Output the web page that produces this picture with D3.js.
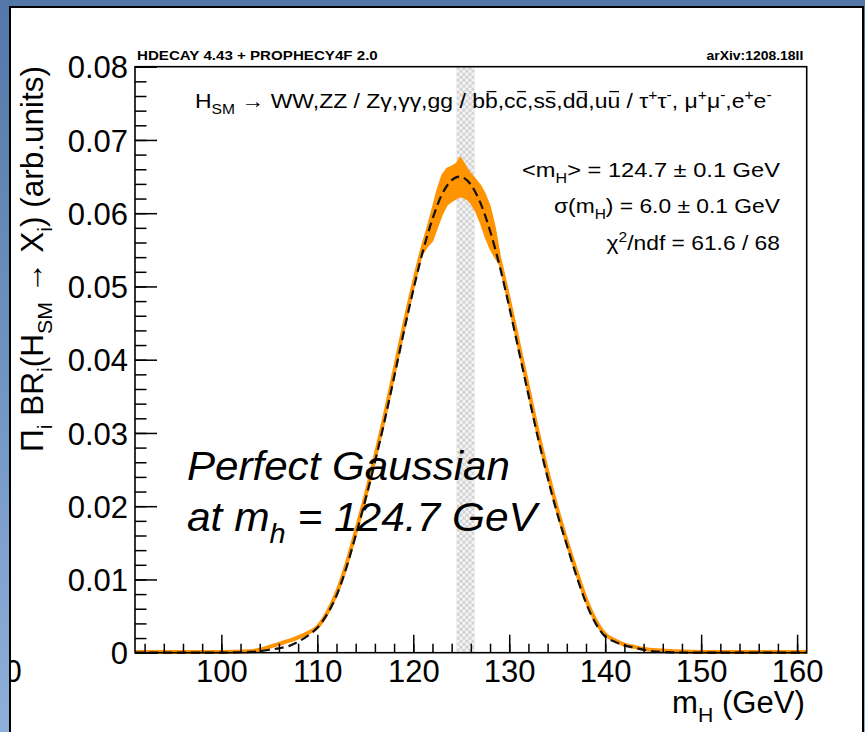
<!DOCTYPE html>
<html><head><meta charset="utf-8">
<script src="https://cdn.jsdelivr.net/npm/d3@7/dist/d3.min.js"></script>
<style>html,body{margin:0;padding:0;background:#fff}svg{display:block}</style>
</head><body>
<svg id="c" width="865" height="732"></svg>
<script>
// ---------------- data ----------------
const xTicks = [100, 110, 120, 130, 140, 150, 160];
const xTickLabels = ["100", "110", "120", "130", "140", "150", "160"];
const yTicks = [0, 0.01, 0.02, 0.03, 0.04, 0.05, 0.06, 0.07, 0.08];
const yTickLabels = ["0", "0.01", "0.02", "0.03", "0.04", "0.05", "0.06", "0.07", "0.08"];

// dashed Gaussian fit
const fitX = [91,96,100,103,104,105,106,107,108,109,110,111,112,113,114,115,116,117,118,119,120,121,122,123,124,124.8,126,127,128,129,130,131,132,133,134,135,136,137,138,139,140,141,142,143,144,145,147,150,161];
const fitY = [0,0,0.00002,0.0001,0.0002,0.0004,0.0006,0.0009,0.0015,0.0023,0.0034,0.0052,0.0078,0.0115,0.0160,0.0208,0.0260,0.0316,0.0376,0.0437,0.0495,0.0548,0.0592,0.0626,0.0645,0.0650,0.0639,0.0614,0.0576,0.0528,0.0472,0.0412,0.0352,0.0293,0.0239,0.0190,0.0147,0.0105,0.0068,0.0040,0.0022,0.0015,0.0010,0.0007,0.0004,0.0002,0.00005,0,0];

// orange distribution (centre line)
const orangeX = [91,100,103,104,105,106,107,108,109,110,111,112,113,114,115,116,117,118,119,120,121,122,123,124,124.8,126,127,128,129,130,131,132,133,134,135,136,137,138,139,140,141,142,143,144,146,150,161];
const orangeY = [0.0001,0.0001,0.0002,0.0004,0.0008,0.0012,0.0016,0.0021,0.0027,0.0035,0.0054,0.0081,0.0119,0.0165,0.0213,0.0266,0.0322,0.0383,0.0444,0.0502,0.0554,0.0596,0.0630,0.0648,0.0652,0.0642,0.0618,0.0583,0.0536,0.0480,0.0420,0.0360,0.0300,0.0246,0.0196,0.0152,0.0111,0.0073,0.0044,0.0025,0.0017,0.0011,0.0008,0.0005,0.0003,0.0001,0.0001];

// orange uncertainty band near the peak
const bandX  = [121,121.5,122,122.5,123,123.5,124,124.5,124.9,125.3,125.6,126,126.5,127,127.5,128,128.5,129];
const bandHi = [0.0555,0.0582,0.0607,0.0632,0.0652,0.0661,0.0664,0.0668,0.0676,0.0668,0.0661,0.0654,0.0646,0.0638,0.0626,0.0609,0.0582,0.0545];
const bandLo = [0.0545,0.0555,0.0562,0.0580,0.0598,0.0611,0.0616,0.0620,0.0623,0.0621,0.0619,0.0614,0.0603,0.0587,0.0568,0.0552,0.0540,0.0530];

// hatched mass band
const massBand = [124.5, 126.4];

// ---------------- setup ----------------
const FONT = "'Liberation Sans', Arial, Helvetica, sans-serif";
const W = 865, H = 732;
const P = {left: 135, right: 806.7, top: 66.7, bottom: 652.7};
const x = d3.scaleLinear().domain([91, 161]).range([P.left, P.right]);
const y = d3.scaleLinear().domain([0, 0.08]).range([P.bottom, P.top]);

const svg = d3.select("#c");
const defs = svg.append("defs");
const grad = defs.append("linearGradient").attr("id", "bg").attr("x1", 0).attr("y1", 0).attr("x2", 0).attr("y2", 1);
grad.append("stop").attr("offset", "0%").attr("stop-color", "#5277a8");
grad.append("stop").attr("offset", "100%").attr("stop-color", "#8db0da");
defs.append("clipPath").attr("id", "panelClip").append("rect").attr("x", 11).attr("y", 8).attr("width", 851).attr("height", 730);

const pat = defs.append("pattern").attr("id", "chk").attr("patternUnits", "userSpaceOnUse")
  .attr("x", x(massBand[0])).attr("y", P.top).attr("width", 6).attr("height", 6);
pat.append("rect").attr("width", 6).attr("height", 6).attr("fill", "#f5f5f5");
pat.append("rect").attr("width", 3).attr("height", 3).attr("fill", "#d2d2d2");
pat.append("rect").attr("x", 3).attr("y", 3).attr("width", 3).attr("height", 3).attr("fill", "#d2d2d2");

svg.append("rect").attr("width", W).attr("height", H).attr("fill", "url(#bg)");
svg.append("rect").attr("x", 10).attr("y", 7).attr("width", 853).attr("height", 740)
  .attr("fill", "#fff").attr("stroke", "#000").attr("stroke-width", 2);

// ---------------- rich text helper ----------------
function rich(parent, segs, o) {
  const size = o.size;
  const g = parent.append("g");
  const t = g.append("text").attr("x", 0).attr("y", 0)
    .attr("font-family", FONT).attr("font-size", size)
    .attr("font-style", o.italic ? "italic" : "normal")
    .attr("font-weight", o.bold ? "bold" : "normal")
    .attr("fill", "#000");
  let shift = 0, idx = 0;
  const bars = [];
  segs.forEach(s => {
    const seg = typeof s === "string" ? {t: s} : s;
    const sz = (seg.sub || seg.sup) ? size * 0.68 : size;
    const target = seg.sub ? size * 0.3 : seg.sup ? -size * 0.38 : 0;
    t.append("tspan").attr("font-size", sz).attr("dy", target - shift).text(seg.t);
    shift = target;
    if (seg.bar) bars.push(idx);
    idx += seg.t.length;
  });
  const w = t.node().getComputedTextLength();
  const x0 = o.anchor === "end" ? -w : o.anchor === "middle" ? -w / 2 : 0;
  t.attr("x", x0);
  bars.forEach(i => {
    const e = t.node().getExtentOfChar(i);
    g.append("line").attr("x1", e.x + e.width * 0.12).attr("x2", e.x + e.width * 0.88)
      .attr("y1", -size * 0.8).attr("y2", -size * 0.8).attr("stroke", "#000").attr("stroke-width", 1.3);
  });
  const sx = o.width ? o.width / w : (o.sx || 1);
  g.attr("transform", `translate(${o.x},${o.y}) rotate(${o.rotate || 0}) scale(${sx},1)`);
  g.sx = sx;
  return g;
}

// ---------------- plot content ----------------
const clipG = svg.append("g").attr("clip-path", "url(#panelClip)");
// stray clipped label at the left edge of the panel
rich(clipG, ["90"], {x: 4.5, y: 682, size: 31, anchor: "middle"});

svg.append("rect").attr("x", x(massBand[0])).attr("y", P.top)
  .attr("width", x(massBand[1]) - x(massBand[0])).attr("height", P.bottom - P.top)
  .attr("fill", "url(#chk)");

const orange = "#ff9300";
svg.append("path")
  .attr("d", d3.line().x((d, i) => x(orangeX[i])).y(d => y(d)).curve(d3.curveMonotoneX)(orangeY))
  .attr("fill", "none").attr("stroke", orange).attr("stroke-width", 4).attr("stroke-linejoin", "round");
svg.append("path")
  .attr("d", d3.area().x((d, i) => x(bandX[i])).y0((d, i) => y(bandLo[i])).y1(d => y(d))(bandHi))
  .attr("fill", orange).attr("stroke", orange).attr("stroke-width", 1.5).attr("stroke-linejoin", "round");

svg.append("path")
  .attr("d", d3.line().x((d, i) => x(fitX[i])).y(d => y(d)).curve(d3.curveMonotoneX)(fitY))
  .attr("fill", "none").attr("stroke", "#111").attr("stroke-width", 2.2).attr("stroke-dasharray", "9,5");

// ---------------- axes ----------------
function styleAxis(g) {
  g.select(".domain").remove();
  g.selectAll(".tick line").attr("stroke", "#000").attr("stroke-width", 1.5);
  g.selectAll("text").attr("font-family", FONT).attr("font-size", 31).attr("fill", "#000");
}
const gxMinor = svg.append("g").attr("transform", `translate(0,${P.bottom})`)
  .call(d3.axisBottom(x).tickValues(x.ticks(35)).tickSize(-9).tickFormat(""));
styleAxis(gxMinor);
const gx = svg.append("g").attr("transform", `translate(0,${P.bottom})`)
  .call(d3.axisBottom(x).tickValues(xTicks).tickSize(-18).tickFormat((d, i) => xTickLabels[i]));
styleAxis(gx);
gx.selectAll("text").attr("y", 29).attr("dy", 0);

const gyMinor = svg.append("g").attr("transform", `translate(${P.left},0)`)
  .call(d3.axisLeft(y).tickValues(y.ticks(40)).tickSize(-11.5).tickFormat(""));
styleAxis(gyMinor);
const gy = svg.append("g").attr("transform", `translate(${P.left},0)`)
  .call(d3.axisLeft(y).tickValues(yTicks).tickSize(-22).tickFormat((d, i) => yTickLabels[i]));
styleAxis(gy);
gy.selectAll("text").attr("x", -7).attr("dy", "0.36em");

svg.append("rect").attr("x", P.left).attr("y", P.top).attr("width", P.right - P.left).attr("height", P.bottom - P.top)
  .attr("fill", "none").attr("stroke", "#000").attr("stroke-width", 1.6);

// ---------------- texts ----------------
rich(svg, ["HDECAY 4.43 + PROPHECY4F 2.0"], {x: 137, y: 60, size: 13, bold: true, width: 241});
rich(svg, ["arXiv:1208.18II"], {x: 803.5, y: 60, size: 13, bold: true, anchor: "end", width: 97});

rich(svg, ["H", {t: "SM", sub: true}, " \u2192 WW,ZZ / Z\u03b3,\u03b3\u03b3,gg / b", {t: "b", bar: true}, ",c", {t: "c", bar: true},
  ",s", {t: "s", bar: true}, ",d", {t: "d", bar: true}, ",u", {t: "u", bar: true}, " / \u03c4", {t: "+", sup: true}, "\u03c4", {t: "-", sup: true},
  ", \u03bc", {t: "+", sup: true}, "\u03bc", {t: "-", sup: true}, ",e", {t: "+", sup: true}, "e", {t: "-", sup: true}],
  {x: 195, y: 108, size: 20.5, width: 577});

const l1 = rich(svg, ["<m", {t: "H", sub: true}, "> = 124.7 \u00b1  0.1 GeV"], {x: 780, y: 176.7, size: 20.5, anchor: "end", width: 258});
const l2 = rich(svg, ["\u03c3(m", {t: "H", sub: true}, ") = 6.0 \u00b1 0.1 GeV"], {x: 780, y: 213, size: 20.5, anchor: "end", width: 226});
rich(svg, ["\u03c7", {t: "2", sup: true}, "/ndf = 61.6 / 68"], {x: 780, y: 250, size: 20.5, anchor: "end", sx: l2.sx});

rich(svg, ["Perfect Gaussian"], {x: 187, y: 480, size: 41, italic: true, width: 323});
rich(svg, ["at m", {t: "h", sub: true}, " = 124.7 GeV"], {x: 187, y: 531, size: 41, italic: true, width: 350});

rich(svg, ["m", {t: "H", sub: true}, " (GeV)"], {x: 805, y: 713, size: 31, anchor: "end", width: 133});
rich(svg, ["\u03a0", {t: "i", sub: true}, " BR", {t: "i", sub: true}, "(H", {t: "SM", sub: true}, " \u2192 X", {t: "i", sub: true}, ") (arb.units)"],
  {x: 43, y: 66, size: 31, anchor: "end", rotate: -90, width: 386});
</script>
</body></html>
